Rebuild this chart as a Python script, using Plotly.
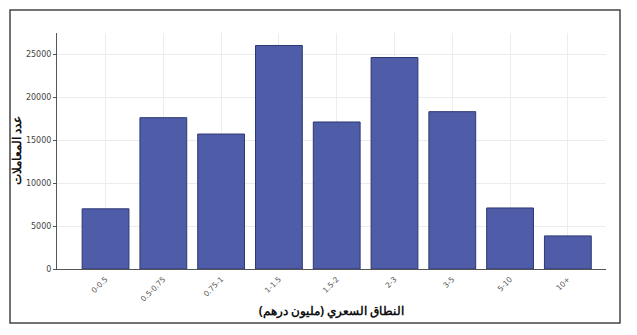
import plotly.graph_objects as go

categories = ["0-0.5", "0.5-0.75", "0.75-1", "1-1.5", "1.5-2", "2-3", "3-5", "5-10", "10+"]
counts = [7000, 17600, 15700, 26000, 17100, 24600, 18300, 7100, 3850]
y_ticks = [0, 5000, 10000, 15000, 20000, 25000]
y_tick_labels = ["0", "5000", "10000", "15000", "20000", "25000"]

fig = go.Figure(go.Bar(
    x=categories, y=counts,
    marker=dict(color="#4f5ca8", line=dict(color="#2e3873", width=1)),
))

fig.update_layout(
    width=637, height=335,
    margin=dict(l=57, r=31, t=33, b=66),
    paper_bgcolor="white", plot_bgcolor="white",
    bargap=0.19, showlegend=False,
    font=dict(family="DejaVu Sans", color="#444"),
    xaxis=dict(
        range=[-0.84, 8.66], showline=True, linecolor="#555", linewidth=1,
        showgrid=True, gridcolor="#ececec", tickangle=-45,
        tickfont=dict(size=7.5, color="#555"), ticks="outside", ticklen=2, tickcolor="white",
        title=dict(text="<b>النطاق السعري (مليون درهم)</b>",
                   font=dict(size=12, color="#111", family="Noto Sans"), standoff=4),
    ),
    yaxis=dict(
        range=[0, 27450], tickvals=y_ticks, ticktext=y_tick_labels,
        showline=True, linecolor="#555", linewidth=1,
        showgrid=True, gridcolor="#ececec", zeroline=False,
        tickfont=dict(size=8, color="#444"), ticks="outside", ticklen=3, tickcolor="#555",
    ),
    annotations=[dict(text="<b>عدد المعاملات</b>", xref="paper", yref="paper",
                      x=-0.0745, y=0.5, textangle=-90, showarrow=False,
                      xanchor="center", yanchor="middle",
                      font=dict(size=11.5, color="#111", family="Noto Sans"))],
    shapes=[dict(type="rect", xref="paper", yref="paper",
                 x0=-0.0856, x1=1.0255, y0=-0.229, y1=1.097,
                 line=dict(color="#444", width=1.5), fillcolor="rgba(0,0,0,0)")],
)

fig.write_html("out.html")
